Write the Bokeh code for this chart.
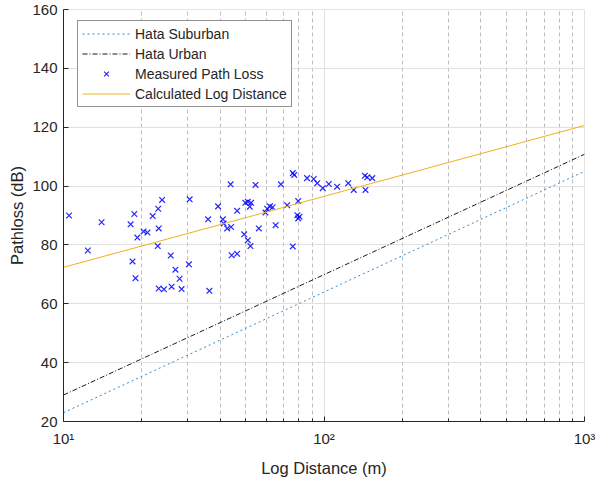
from bokeh.plotting import figure
from bokeh.models import Range1d, FixedTicker, CustomJSTickFormatter, Legend, LegendItem, ColumnDataSource
from bokeh.embed import file_html
from bokeh.resources import INLINE

# ---- data ----
line_distance_m = [10, 1000]
hata_suburban_db = [23.0, 105.0]
hata_urban_db = [29.0, 110.8]
log_distance_db = [72.4, 120.6]

measured_distance_m = [
    10.5, 12.4, 14.0, 18.1, 18.4, 18.7, 18.9, 19.2, 20.3, 21.0,
    22.0, 23.1, 23.2, 23.0, 23.9, 23.2, 24.3, 25.8, 26.0, 26.9,
    27.9, 28.4, 30.3, 30.5, 35.9, 36.3, 39.2, 40.9, 41.2, 42.5,
    44.0, 43.8, 44.2, 46.4, 46.4, 49.4, 49.9, 51.0, 51.9, 52.5,
    51.0, 52.2, 54.6, 56.2, 59.6, 60.5, 62.0, 63.5, 65.2, 68.3,
    72.2, 75.9, 76.9, 75.9, 79.0, 80.5, 79.6, 79.6, 86.1, 91.3,
    94.2, 98.9, 104.3, 112.3, 123.9, 130.1, 143.5, 146.6, 153.2, 144.3,
]
measured_pathloss_db = [
    90.0, 78.1, 87.7, 87.0, 74.4, 90.5, 68.7, 82.5, 84.6, 84.2,
    89.8, 92.3, 85.6, 79.6, 95.3, 65.2, 64.9, 76.4, 65.8, 71.6,
    68.5, 65.0, 73.4, 95.5, 88.7, 64.4, 93.1, 88.7, 87.3, 85.6,
    86.1, 100.6, 76.5, 77.0, 91.6, 83.6, 94.3, 94.7, 93.0, 94.3,
    81.6, 79.6, 100.4, 85.6, 91.0, 92.3, 93.1, 92.8, 86.7, 100.6,
    93.5, 104.4, 103.8, 79.5, 90.1, 89.6, 89.0, 94.9, 102.7, 102.4,
    101.0, 99.3, 100.7, 99.8, 101.0, 98.7, 103.5, 103.0, 102.7, 98.7,
]

x_ticks = [10, 100, 1000]
x_tick_labels = ["10\u00b9", "10\u00b2", "10\u00b3"]
y_ticks = [20, 40, 60, 80, 100, 120, 140, 160]
x_minor_ticks = [m * 10 ** k for k in (1, 2) for m in range(2, 10)]

FONT = "Liberation Sans"
TXT = "#262626"

p = figure(
    width=597, height=479,
    x_axis_type="log",
    x_range=Range1d(10, 1000), y_range=Range1d(20, 160),
    output_backend="svg", toolbar_location=None,
    min_border_left=63, min_border_right=13,
    min_border_top=9, min_border_bottom=58,
    background_fill_color="white", border_fill_color="white",
)
p.outline_line_color = "#e3e3e3"

# axes
p.xaxis.ticker = FixedTicker(ticks=x_ticks, minor_ticks=x_minor_ticks)
p.xaxis.formatter = CustomJSTickFormatter(
    args=dict(tick_values=x_ticks, tick_texts=x_tick_labels),
    code="const i = tick_values.indexOf(tick); return i >= 0 ? tick_texts[i] : '';",
)
p.yaxis.ticker = FixedTicker(ticks=y_ticks, minor_ticks=[])

for ax in (p.xaxis[0], p.yaxis[0]):
    ax.axis_line_color = TXT
    ax.axis_line_width = 1
    ax.major_tick_line_color = TXT
    ax.minor_tick_line_color = TXT
    ax.major_tick_in = 5
    ax.major_tick_out = 0
    ax.minor_tick_in = 3
    ax.minor_tick_out = 0
    ax.major_label_text_font = FONT
    ax.major_label_text_font_size = "15px"
    ax.major_label_text_color = TXT
    ax.axis_label_text_font = FONT
    ax.axis_label_text_font_size = "16.5px"
    ax.axis_label_text_font_style = "normal"
    ax.axis_label_text_color = TXT

p.xaxis.axis_label = "Log Distance (m)"
p.yaxis.axis_label = "Pathloss (dB)"
p.xaxis.major_label_standoff = 8
p.xaxis.axis_label_standoff = 9
p.yaxis.major_label_standoff = 6
p.yaxis.axis_label_standoff = 3

# grids
p.xgrid.grid_line_color = "#e0e0e0"
p.xgrid.minor_grid_line_color = "#bdbdbd"
p.xgrid.minor_grid_line_dash = "4 3"
p.xgrid.minor_grid_line_width = 1
p.ygrid.grid_line_color = "#e0e0e0"

# series
r_sub = p.line(line_distance_m, hata_suburban_db, line_color="#2d8bd1",
               line_width=1, line_dash="2 3")
r_urb = p.line(line_distance_m, hata_urban_db, line_color="#1a1a1a",
               line_width=1, line_dash="5 2 1 2")
src = ColumnDataSource(dict(d=measured_distance_m, pl=measured_pathloss_db))
r_meas = p.scatter("d", "pl", source=src, marker="x", size=8,
                   line_color="#0000ff", line_width=1.2, line_alpha=0.85)
r_log = p.line(line_distance_m, log_distance_db, line_color="#EDB120",
               line_width=1)

legend = Legend(
    items=[
        LegendItem(label="Hata Suburban", renderers=[r_sub]),
        LegendItem(label="Hata Urban", renderers=[r_urb]),
        LegendItem(label="Measured Path Loss", renderers=[r_meas]),
        LegendItem(label="Calculated Log Distance", renderers=[r_log]),
    ],
    location=(14, 314),
    margin=0, padding=4, spacing=3,
    glyph_width=48, glyph_height=17, label_height=17, label_standoff=5,
    label_text_font=FONT, label_text_font_size="14px", label_text_color=TXT,
    border_line_color=TXT, border_line_width=1,
    background_fill_color="white", background_fill_alpha=1.0,
)
p.add_layout(legend)

open("out.html", "w").write(file_html(p, INLINE))
